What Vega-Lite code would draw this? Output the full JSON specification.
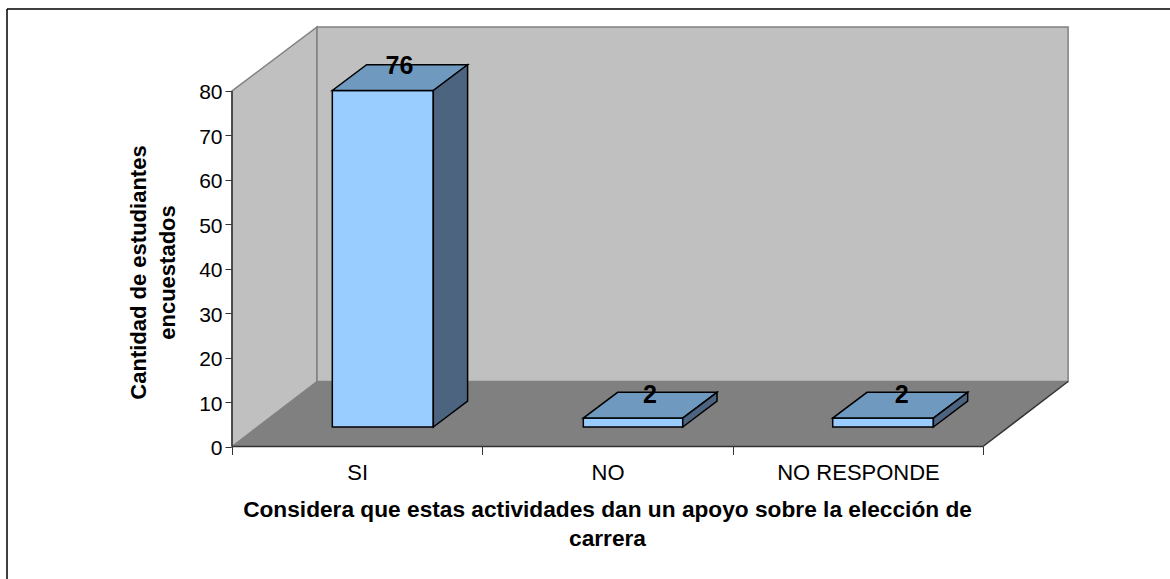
{
"$schema":"https://vega.github.io/schema/vega-lite/v6.json",
"width":1163,"height":570,
"autosize":"none",
"padding":{"left":7,"top":9,"right":0,"bottom":0},
"background":"white",
"view":{"stroke":null},
"config":{"font":"Liberation Sans"},
"datasets":{
"bars":[
{"category":"SI","value":76,"start":0.4006,"end":0.8039,"base":4.39,"top":80.1,"labelX":0.6685,"labelY":85.6},
{"category":"NO","value":2,"start":1.403,"end":1.8,"base":4.39,"top":6.4,"labelX":1.669,"labelY":11.7},
{"category":"NO RESPONDE","value":2,"start":2.399,"end":2.801,"base":4.39,"top":6.4,"labelX":2.675,"labelY":11.7}
],
"scene":[
{"part":"wall left","x":0,"low":0,"high":80},
{"part":"wall left","x":0.3395,"low":14.63,"high":94.4},
{"part":"wall back","x":0.3395,"low":14.63,"high":94.4},
{"part":"wall back","x":3.339,"low":14.63,"high":94.4}
],
"floor":[
{"part":"floor","x":0,"low":0,"high":0},
{"part":"floor","x":0.3395,"low":0,"high":14.63},
{"part":"floor","x":2.999,"low":0,"high":14.63},
{"part":"floor","x":3.339,"low":14.63,"high":14.63}
],
"tops":[
{"part":"SI","x":0.4006,"low":80.1,"high":80.1},
{"part":"SI","x":0.5376,"low":80.1,"high":85.9},
{"part":"SI","x":0.8039,"low":80.1,"high":85.9},
{"part":"SI","x":0.9409,"low":85.9,"high":85.9},
{"part":"NO","x":1.403,"low":6.4,"high":6.4},
{"part":"NO","x":1.54,"low":6.4,"high":12.2},
{"part":"NO","x":1.8,"low":6.4,"high":12.2},
{"part":"NO","x":1.937,"low":12.2,"high":12.2},
{"part":"NR","x":2.399,"low":6.4,"high":6.4},
{"part":"NR","x":2.536,"low":6.4,"high":12.2},
{"part":"NR","x":2.801,"low":6.4,"high":12.2},
{"part":"NR","x":2.938,"low":12.2,"high":12.2}
],
"sides":[
{"part":"SI","x":0.8039,"low":4.39,"high":80.1},
{"part":"SI","x":0.9409,"low":10.19,"high":85.9},
{"part":"NO","x":1.8,"low":4.39,"high":6.4},
{"part":"NO","x":1.937,"low":10.19,"high":12.2},
{"part":"NR","x":2.801,"low":4.39,"high":6.4},
{"part":"NR","x":2.938,"low":10.19,"high":12.2}
],
"edges":[
{"x":0,"x2":3,"y":0,"y2":0,"kind":"axis"},
{"x":0,"x2":0,"y":0,"y2":80,"kind":"axis"},
{"x":2.999,"x2":3.339,"y":0,"y2":14.63,"kind":"edge"},
{"x":-0.8986,"x2":-0.8986,"y":-29.81,"y2":98.44,"kind":"frame"},
{"x":-0.8986,"x2":3.746,"y":98.44,"y2":98.44,"kind":"frame"}
]
},
"layer":[
{"data":{"name":"scene"},
 "mark":{"type":"area","color":"#C0C0C0","stroke":"#808080","strokeWidth":1.5,"line":false},
 "encoding":{
  "x":{"field":"x","type":"quantitative","scale":{"domain":[-0.8986,3.746],"nice":false,"zero":false},
   "axis":{"offset":-132.5,"domain":false,"grid":false,"values":[0,0.5,1,1.5,2,2.5,3],
    "tickSize":8,"tickColor":"#333333","tickOpacity":{"condition":{"test":"datum.value % 1 != 0","value":0},"value":1},
    "labelExpr":"datum.value==0.5?'SI':datum.value==1.5?'NO':datum.value==2.5?'NO RESPONDE':''",
    "labelFontSize":22,"labelColor":"#000000","labelPadding":8,"labelFlush":false,"labelOverlap":false,"labelBound":false,
    "title":["Considera que estas actividades dan un apoyo sobre la elección de","carrera"],
    "titleFontSize":22.7,"titleFontWeight":"bold","titleColor":"#000000","titleX":600,"titleY":70,"titleLineHeight":29,"titleBaseline":"alphabetic"}},
  "y":{"field":"low","type":"quantitative","scale":{"domain":[-29.81,98.44],"nice":false,"zero":false},
   "axis":{"offset":-225,"domain":false,"grid":false,"values":[0,10,20,30,40,50,60,70,80],
    "tickSize":7,"tickColor":"#333333","labelFontSize":21,"labelColor":"#000000","labelPadding":3,"labelOffset":2,"labelFlush":false,"labelBound":false,
    "title":["Cantidad de estudiantes","encuestados"],
    "titleFontSize":22,"titleFontWeight":"bold","titleColor":"#000000","titleX":-87,"titleY":263,"titleLineHeight":29,"titleBaseline":"alphabetic"}},
  "y2":{"field":"high"},
  "detail":{"field":"part"}}},
{"data":{"name":"floor"},
 "mark":{"type":"area","color":"#808080","line":false},
 "encoding":{"x":{"field":"x","type":"quantitative"},"y":{"field":"low","type":"quantitative"},"y2":{"field":"high"},"detail":{"field":"part"}}},
{"data":{"name":"edges"},
 "mark":{"type":"rule","strokeWidth":1.5},
 "encoding":{"x":{"field":"x","type":"quantitative"},"x2":{"field":"x2"},"y":{"field":"y","type":"quantitative"},"y2":{"field":"y2"},
  "color":{"field":"kind","type":"nominal","scale":{"domain":["axis","edge","frame"],"range":["#333333","#333333","#000000"]},"legend":null}}},
{"data":{"name":"bars"},
 "mark":{"type":"rect","color":"#99CCFF","stroke":"#000000","strokeWidth":1.5},
 "encoding":{"x":{"field":"start","type":"quantitative"},"x2":{"field":"end"},"y":{"field":"base","type":"quantitative"},"y2":{"field":"top"}}},
{"data":{"name":"tops"},
 "mark":{"type":"area","color":"#7099BF","stroke":"#000000","strokeWidth":1.5,"line":false},
 "encoding":{"x":{"field":"x","type":"quantitative"},"y":{"field":"low","type":"quantitative"},"y2":{"field":"high"},"detail":{"field":"part"}}},
{"data":{"name":"sides"},
 "mark":{"type":"area","color":"#4D6480","stroke":"#000000","strokeWidth":1.5,"line":false},
 "encoding":{"x":{"field":"x","type":"quantitative"},"y":{"field":"low","type":"quantitative"},"y2":{"field":"high"},"detail":{"field":"part"}}},
{"data":{"name":"bars"},
 "mark":{"type":"text","fontSize":25,"fontWeight":"bold","color":"#000000","align":"center","baseline":"middle"},
 "encoding":{"x":{"field":"labelX","type":"quantitative"},"y":{"field":"labelY","type":"quantitative"},"text":{"field":"value","type":"quantitative"}}}
]
}
